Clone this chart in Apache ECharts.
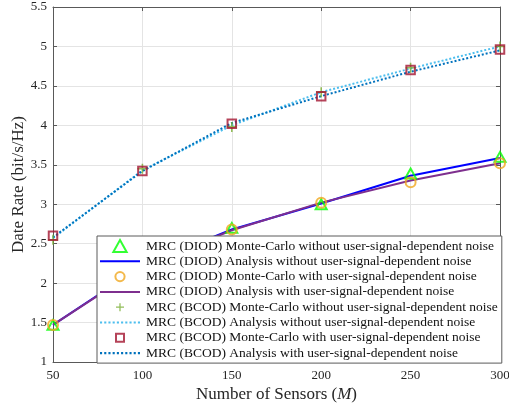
<!DOCTYPE html>
<html>
<head>
<meta charset="utf-8">
<script src="https://cdn.jsdelivr.net/npm/echarts@6/dist/echarts.min.js"></script>
<style>
  html, body { margin: 0; padding: 0; background: #fff; }
  #chart { width: 509px; height: 407px; }
</style>
</head>
<body>
<div id="chart"></div>
<script>
// Number of sensors M
const sensors = [50, 100, 150, 200, 250, 300];

// DIOD receiver
const diodMcWithout   = [1.47, 2.22, 2.70, 3.00, 3.39, 3.60];
const diodAnaWithout  = [1.47, 2.22, 2.68, 3.01, 3.36, 3.585];
const diodMcWith      = [1.47, 2.21, 2.68, 3.02, 3.28, 3.52];
const diodAnaWith     = [1.47, 2.21, 2.67, 3.02, 3.30, 3.52];

// BCOD receiver
const bcodMcWithout   = [2.55, 3.45, 3.98, 4.42, 4.73, 5.00];
const bcodAnaWithout  = [2.57, 3.43, 4.00, 4.42, 4.72, 5.00];
const bcodMcWith      = [2.60, 3.42, 4.02, 4.37, 4.70, 4.96];
const bcodAnaWith     = [2.58, 3.42, 4.03, 4.37, 4.68, 4.95];

const seriesNames = [
  'MRC (DIOD) Monte-Carlo without user-signal-dependent noise',
  'MRC (DIOD) Analysis without user-signal-dependent noise',
  'MRC (DIOD) Monte-Carlo with user-signal-dependent noise',
  'MRC (DIOD) Analysis with user-signal-dependent noise',
  'MRC (BCOD) Monte-Carlo without user-signal-dependent noise',
  'MRC (BCOD) Analysis without user-signal-dependent noise',
  'MRC (BCOD) Monte-Carlo with user-signal-dependent noise',
  'MRC (BCOD) Analysis with user-signal-dependent noise'
];

const pts = ys => sensors.map((x, i) => [x, ys[i]]);
const FONT = '"Liberation Serif", "DejaVu Serif", serif';
const AXIS = '#595959';

// marker outlines (10-unit boxes)
const TRI_D = 'M5,0 L10,9 L0,9 Z';
const CIRC_D = 'M10,5 A5,5 0 1,1 0,5 A5,5 0 1,1 10,5 Z';
const RECT_D = 'M0,0 L10,0 L10,10 L0,10 Z';
const PLUS_D = 'M4.2,0 L5.8,0 L5.8,4.2 L10,4.2 L10,5.8 L5.8,5.8 L5.8,10 L4.2,10 L4.2,5.8 L0,5.8 L0,4.2 L4.2,4.2 Z';
// same outline with empty margin so the legend swatch comes out smaller
const padded = (d, p) => 'path://M' + (-p) + ',' + (-p) + ' ' + d + ' M' + (10 + p) + ',' + (10 + p);

// legend swatches for the analysis curves: a solid bar or a row of short dashes
const SOLID_ICON = 'path://M0,0 L40,0 L40,2 L0,2 Z';
let dots = '';
for (let x = 0; x < 40; x += 4) dots += 'M' + x + ',0 L' + (x + 2) + ',0 L' + (x + 2) + ',2 L' + x + ',2 Z ';
const DOTTED_ICON = 'path://' + dots.trim();

function lineSeries(name, ys, color, dash, z) {
  return {
    name, type: 'line', data: pts(ys), symbol: 'none', z,
    lineStyle: { color, width: 2, type: dash ? [2, 2] : 'solid' },
    itemStyle: { color }
  };
}
function markSeries(name, ys, d, size, color, z, filled) {
  return {
    name, type: 'scatter', data: pts(ys), symbol: 'path://' + d, symbolSize: size, z,
    symbolKeepAspect: true,
    itemStyle: filled ? { color } : { color: 'rgba(0,0,0,0)', borderColor: color, borderWidth: 2 }
  };
}

const legendIcons = [
  'path://' + TRI_D, SOLID_ICON,
  padded(CIRC_D, 1.5), SOLID_ICON,
  padded(PLUS_D, 2.5), DOTTED_ICON,
  padded(RECT_D, 2.5), DOTTED_ICON
];

const chart = echarts.init(document.getElementById('chart'), null, { renderer: 'canvas' });
chart.setOption({
  animation: false,
  backgroundColor: '#fff',
  textStyle: { fontFamily: FONT },
  grid: { left: 53, right: 9, top: 7, bottom: 45, outerBoundsMode: 'none', containLabel: false },
  xAxis: [{
    type: 'value', min: 50, max: 300, interval: 50,
    axisLine: { show: true, lineStyle: { color: AXIS, width: 1 } },
    axisTick: { inside: true, length: 4, lineStyle: { color: AXIS } },
    axisLabel: { color: '#262626', fontSize: 13, fontFamily: FONT, margin: 7 },
    splitLine: { show: true, lineStyle: { color: '#e4e4e4', width: 1 } },
    name: '{a|Number of Sensors (}{b|M}{a|)}',
    nameLocation: 'middle', nameGap: 24, nameMoveOverlap: false,
    nameTextStyle: {
      rich: {
        a: { fontSize: 17, fontFamily: FONT, color: '#262626' },
        b: { fontSize: 17, fontFamily: FONT, fontStyle: 'italic', color: '#262626' }
      }
    }
  }, {
    type: 'value', position: 'top', min: 50, max: 300, interval: 50,
    axisLine: { show: true, lineStyle: { color: AXIS, width: 1 } },
    axisTick: { inside: true, length: 4, lineStyle: { color: AXIS } },
    axisLabel: { show: false }, splitLine: { show: false }
  }],
  yAxis: [{
    type: 'value', min: 1, max: 5.5, interval: 0.5,
    axisLine: { show: true, lineStyle: { color: AXIS, width: 1 } },
    axisTick: { inside: true, length: 4, lineStyle: { color: AXIS } },
    axisLabel: { color: '#262626', fontSize: 13, fontFamily: FONT, margin: 6 },
    splitLine: { show: true, lineStyle: { color: '#e4e4e4', width: 1 } },
    name: 'Date Rate (bit/s/Hz)',
    nameLocation: 'middle', nameGap: 26, nameMoveOverlap: false,
    nameTextStyle: { fontSize: 17, fontFamily: FONT, color: '#262626' }
  }, {
    type: 'value', position: 'right', min: 1, max: 5.5, interval: 0.5,
    axisLine: { show: true, lineStyle: { color: AXIS, width: 1 } },
    axisTick: { inside: true, length: 4, lineStyle: { color: AXIS } },
    axisLabel: { show: false }, splitLine: { show: false }
  }],
  legend: {
    z: 10,
    orient: 'vertical',
    left: 97, top: 236,
    padding: [3, 4, 3, 3],
    itemWidth: 40, itemHeight: 12, itemGap: 1.3,
    symbolKeepAspect: true,
    backgroundColor: '#fff',
    borderColor: '#5a5a5a', borderWidth: 1,
    textStyle: { fontFamily: FONT, fontSize: 13.5, lineHeight: 12, color: '#111', padding: [0, 0, 0, 1] },
    data: seriesNames.map((name, i) => ({ name, icon: legendIcons[i] }))
  },
  series: [
    markSeries(seriesNames[0], diodMcWithout, TRI_D, 11, '#00ff00', 3, false),
    lineSeries(seriesNames[1], diodAnaWithout, '#0000ff', false, 2),
    markSeries(seriesNames[2], diodMcWith, CIRC_D, 10, '#f0a71f', 3, false),
    lineSeries(seriesNames[3], diodAnaWith, '#7e2f8e', false, 2),
    markSeries(seriesNames[4], bcodMcWithout, PLUS_D, 10, '#77ac30', 3, true),
    lineSeries(seriesNames[5], bcodAnaWithout, '#4dbeee', true, 2),
    markSeries(seriesNames[6], bcodMcWith, RECT_D, 8.5, '#a2142f', 3, false),
    lineSeries(seriesNames[7], bcodAnaWith, '#0072bd', true, 2)
  ]
});
</script>
</body>
</html>
